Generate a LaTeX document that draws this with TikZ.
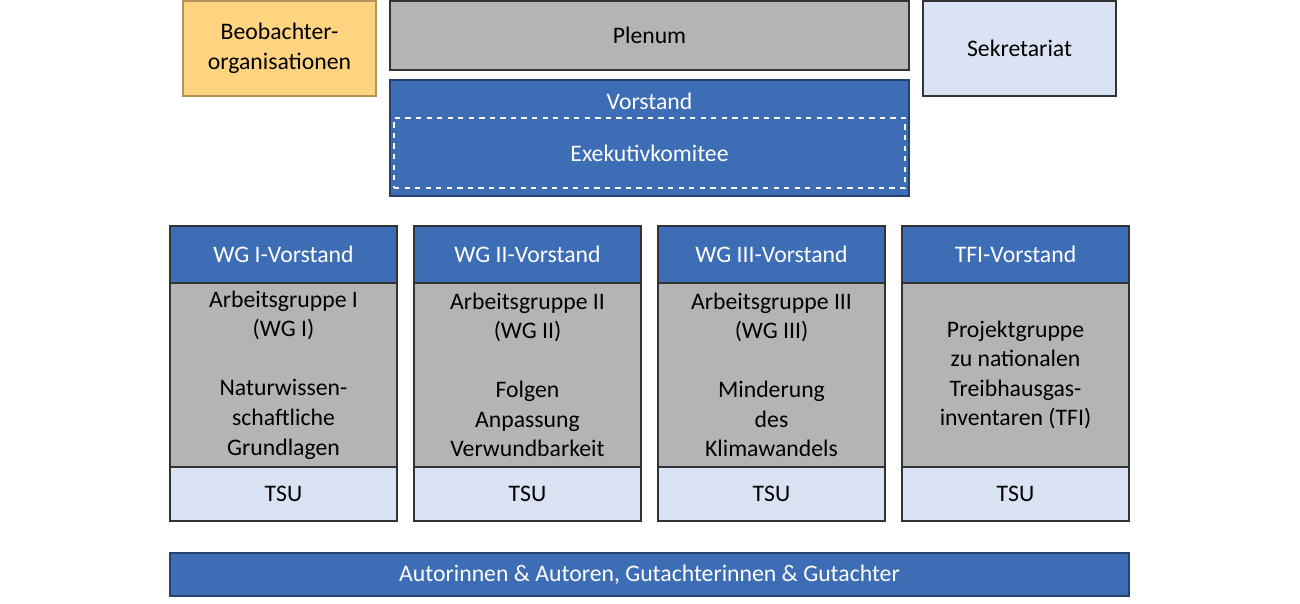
\documentclass[tikz,border=0pt]{standalone}
\usepackage{fontspec}
\setmainfont{Carlito}
\definecolor{ipccblue}{HTML}{3D6DB5}
\definecolor{ipcclight}{HTML}{DAE3F3}
\definecolor{ipccgray}{HTML}{B4B4B4}
\definecolor{ipccorange}{HTML}{FFD480}
\tikzset{
  box/.style={draw=black!80, line width=0.8pt, inner sep=0pt, align=center, font=\fontsize{13.5}{16.8}\selectfont},
  bluebox/.style={box, fill=ipccblue, text=white, draw=ipccblue!60!black},
  graybox/.style={box, fill=ipccgray},
  lightbox/.style={box, fill=ipcclight}
}
\begin{document}
\begin{tikzpicture}[x=0.02cm, y=-0.02cm]
  \useasboundingbox (0,0) rectangle (1300,603);
  % top row
  \node[box, fill=ipccorange, draw=ipccorange!70!black, minimum width=193*0.02cm, minimum height=95*0.02cm] (observers) at (279.5,48.5) {Beobachter-\\organisationen};
  \node[graybox, minimum width=519*0.02cm, minimum height=69*0.02cm] (plenum) at (649.5,35.5) {Plenum};
  \node[lightbox, minimum width=193*0.02cm, minimum height=95*0.02cm] (secretariat) at (1019.5,48.5) {Sekretariat};
  \node[bluebox, minimum width=519*0.02cm, minimum height=116*0.02cm] (bureau) at (649.5,138) {};
  \node[text=white, font=\fontsize{13.5}{16.8}\selectfont] (bureautitle) at (649.5,101) {Vorstand};
  \node[draw=white, dashed, line width=0.8pt, minimum width=511*0.02cm, minimum height=70*0.02cm, text=white, font=\fontsize{13.5}{16.8}\selectfont] (excom) at (649.5,153) {Exekutivkomitee};
  % working groups
  \foreach \i/\x/\head/\body in {
    1/283.5/{WG I-Vorstand}/{Arbeitsgruppe I\\(WG I)\\[16.8pt]Naturwissen-\\schaftliche\\Grundlagen},
    2/527.5/{WG II-Vorstand}/{Arbeitsgruppe II\\(WG II)\\[16.8pt]Folgen\\Anpassung\\Verwundbarkeit},
    3/771.5/{WG III-Vorstand}/{Arbeitsgruppe III\\(WG III)\\[16.8pt]Minderung\\des\\Klimawandels},
    4/1015.5/{TFI-Vorstand}/{Projektgruppe\\zu nationalen\\Treibhausgas-\\inventaren (TFI)}} {
    \node[bluebox, draw=black!80, minimum width=227*0.02cm, minimum height=57*0.02cm] (head\i) at (\x,254.5) {\head};
    \node[graybox, minimum width=227*0.02cm, minimum height=184*0.02cm] (wg\i) at (\x,375) {\body};
    \node[lightbox, minimum width=227*0.02cm, minimum height=54*0.02cm] (tsu\i) at (\x,494) {TSU};
  }
  % authors
  \node[bluebox, minimum width=959*0.02cm, minimum height=43*0.02cm] (authors) at (649.5,574.5) {Autorinnen \& Autoren, Gutachterinnen \& Gutachter};
\end{tikzpicture}
\end{document}
